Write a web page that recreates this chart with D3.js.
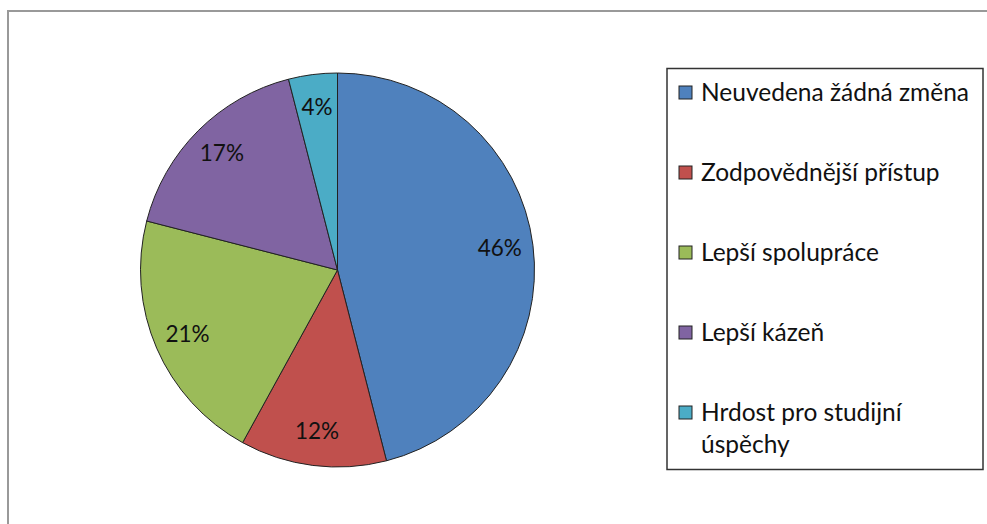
<!DOCTYPE html>
<html>
<head>
<meta charset="utf-8">
<script src="https://cdn.jsdelivr.net/npm/d3@7"></script>
<style>
  body { margin: 0; background: #fff; }
  svg { display: block; font-family: Lato, "Open Sans", sans-serif; }
</style>
</head>
<body>
<svg width="987" height="524"></svg>
<script>
// categories and shares (percent)
var categories = [
  "Neuvedena žádná změna",
  "Zodpovědnější přístup",
  "Lepší spolupráce",
  "Lepší kázeň",
  "Hrdost pro studijní úspěchy"
];
var values = [46, 12, 21, 17, 4];
var colors = ["#4F81BD", "#C0504D", "#9BBB59", "#8064A2", "#4BACC6"];

var svg = d3.select("svg");

// outer chart border (continues past the window edge)
svg.append("rect")
  .attr("x", 8).attr("y", 11)
  .attr("width", 1000).attr("height", 540)
  .attr("fill", "#fff")
  .attr("stroke", "#999")
  .attr("stroke-width", 2);

var cx = 337.5, cy = 270, radius = 197;

var data = categories.map(function (c, i) {
  return { name: c, value: values[i], color: colors[i] };
});

var pie = d3.pie()
  .sort(null)
  .value(function (d) { return d.value; });

var arc = d3.arc().innerRadius(0).outerRadius(radius);
var labelArc = d3.arc().innerRadius(radius * 0.83).outerRadius(radius * 0.83);

var g = svg.append("g")
  .attr("transform", "translate(" + cx + "," + cy + ")");

var arcs = pie(data);

g.selectAll("path")
  .data(arcs)
  .enter()
  .append("path")
  .attr("d", arc)
  .attr("fill", function (d) { return d.data.color; })
  .attr("stroke", "#222")
  .attr("stroke-width", 1);

g.selectAll("text")
  .data(arcs)
  .enter()
  .append("text")
  .attr("transform", function (d) {
    return "translate(" + labelArc.centroid(d) + ")";
  })
  .attr("text-anchor", "middle")
  .attr("dy", "0.3em")
  .style("font-size", "22.5px")
  .style("fill", "#111")
  .text(function (d) { return d.data.value + "%"; });

// legend
var legend = svg.append("g");
legend.append("rect")
  .attr("x", 667).attr("y", 68.5)
  .attr("width", 316).attr("height", 401)
  .attr("fill", "#fff")
  .attr("stroke", "#333")
  .attr("stroke-width", 1.5);

var itemY = d3.scalePoint()
  .domain(categories)
  .range([93, 413]);

var item = legend.selectAll("g.item")
  .data(data)
  .enter()
  .append("g")
  .attr("class", "item")
  .attr("transform", function (d) {
    return "translate(679," + itemY(d.name) + ")";
  });

item.append("rect")
  .attr("x", 0).attr("y", -7)
  .attr("width", 13).attr("height", 13)
  .attr("fill", function (d) { return d.color; })
  .attr("stroke", "#222")
  .attr("stroke-width", 1);

item.append("text")
  .attr("x", 22)
  .style("font-size", "24.5px")
  .style("fill", "#111")
  .each(function (d) {
    var t = d3.select(this);
    var lines = d.name === "Hrdost pro studijní úspěchy"
      ? ["Hrdost pro studijní", "úspěchy"]
      : [d.name];
    lines.forEach(function (l, i) {
      t.append("tspan")
        .attr("x", 22)
        .attr("dy", i === 0 ? "0.33em" : 32)
        .text(l);
    });
  });
</script>
</body>
</html>
